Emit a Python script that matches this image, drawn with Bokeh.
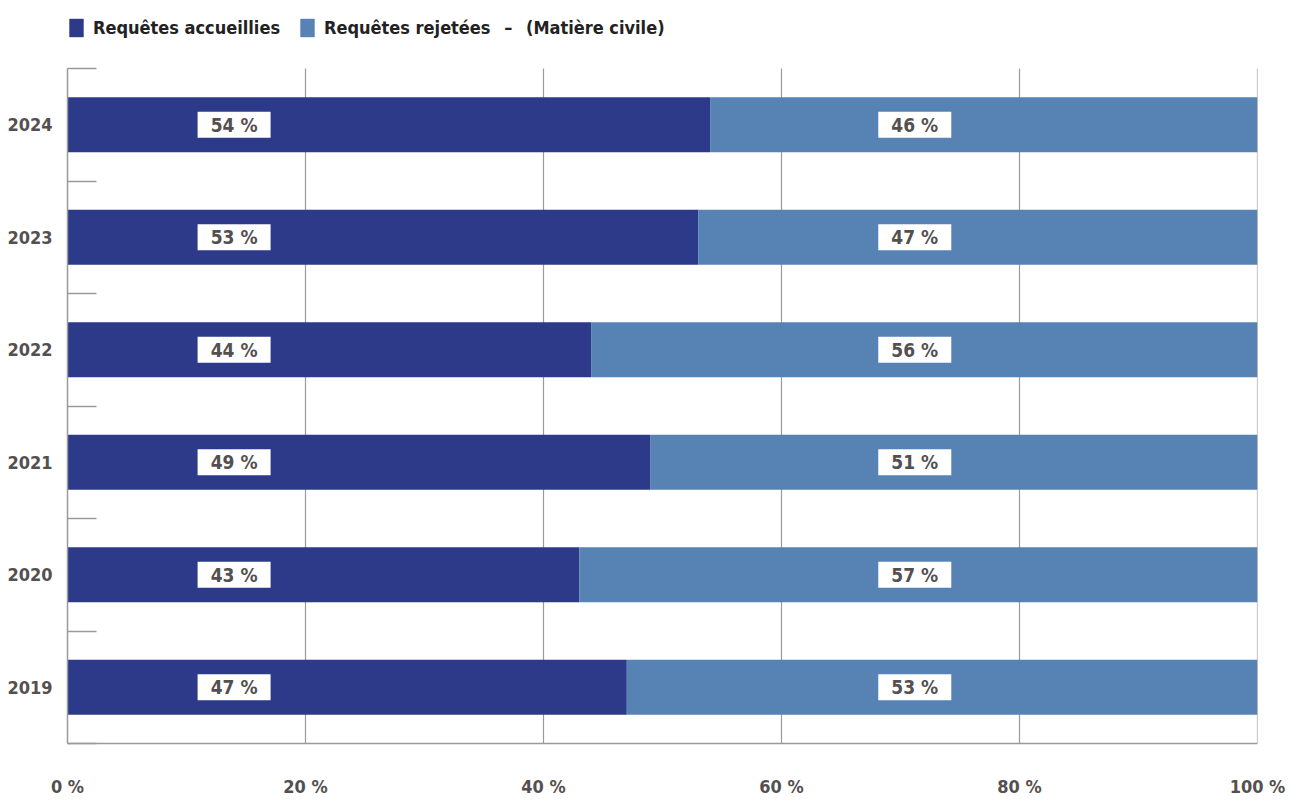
from bokeh.plotting import figure
from bokeh.models import (Range1d, FixedTicker, Legend, LegendItem, ColumnDataSource)
from bokeh.embed import file_html
from bokeh.resources import INLINE
from bokeh.core.properties import value

# ---- data ----
years = ["2019", "2020", "2021", "2022", "2023", "2024"]
accueillies = [47, 43, 49, 44, 53, 54]
rejetees = [53, 57, 51, 56, 47, 46]
x_ticks = [0, 20, 40, 60, 80, 100]
x_tick_labels = ["0 %", "20 %", "40 %", "60 %", "80 %", "100 %"]
legend_labels = ["Requêtes accueillies", "Requêtes rejetées \u2002–\u2002 (Matière civile)"]

# ---- style ----
FONT = "DejaVu Sans Condensed"
NAVY = "#2d3a8a"
LIGHT = "#5683b4"
GRAY = "#9a9a9a"
TEXT = "#545050"
LBL_ACC_X = 14
LBL_REJ_X = 71.2
FRAME_H = 743          # px from figure top to the x axis
BARS_H = 675           # px occupied by the category bands
n = len(years)

ypos = [i + 0.5 for i in range(n)]
totals = [a + r for a, r in zip(accueillies, rejetees)]
src = ColumnDataSource(dict(
    y=ypos, acc=accueillies, tot=totals,
    acc_lbl=[f"{v} %" for v in accueillies],
    rej_lbl=[f"{v} %" for v in rejetees],
    acc_x=[LBL_ACC_X] * n, rej_x=[LBL_REJ_X] * n,
    zero=[0] * n,
))
grid_src = ColumnDataSource(dict(x=x_ticks[1:], y0=[0] * (len(x_ticks) - 1),
                                 y1=[n] * (len(x_ticks) - 1)))

p = figure(width=1290, height=800, output_backend="svg", toolbar_location=None,
           x_range=Range1d(0, 100), y_range=Range1d(0, n * FRAME_H / BARS_H),
           min_border_left=67, min_border_right=33, min_border_bottom=57,
           min_border_top=0)
p.outline_line_color = None
p.background_fill_color = "white"
p.xgrid.grid_line_color = None
p.ygrid.grid_line_color = None

p.segment(x0="x", y0="y0", x1="x", y1="y1", source=grid_src,
          line_color=GRAY, line_width=1.2)

r1 = p.hbar(y="y", left="zero", right="acc", height=0.49, source=src,
            fill_color=NAVY, line_color=None)
r2 = p.hbar(y="y", left="acc", right="tot", height=0.49, source=src,
            fill_color=LIGHT, line_color=None)

for xcol, tcol in (("acc_x", "acc_lbl"), ("rej_x", "rej_lbl")):
    p.rect(x=xcol, y="y", width=73, height=26, width_units="screen",
           height_units="screen", source=src, fill_color="white", line_color=None)
    p.text(x=xcol, y="y", text=tcol, source=src, text_align="center",
           text_baseline="middle", text_color=TEXT, text_font=value(FONT),
           text_font_size="19px", text_font_style="bold")

# x axis
xa = p.xaxis[0]
xa.ticker = FixedTicker(ticks=x_ticks)
xa.major_label_overrides = {t: l for t, l in zip(x_ticks, x_tick_labels)}
xa.major_tick_line_color = None
xa.major_tick_in = 0
xa.major_tick_out = 0
xa.minor_tick_line_color = None
xa.axis_line_color = GRAY
xa.axis_line_width = 1.5
xa.major_label_standoff = 32
xa.major_label_text_font = FONT
xa.major_label_text_font_size = "18px"
xa.major_label_text_font_style = "bold"
xa.major_label_text_color = TEXT

# y axis
ya = p.yaxis[0]
ya.bounds = (0, n)
ya.ticker = FixedTicker(ticks=ypos, minor_ticks=list(range(n + 1)))
ya.major_label_overrides = {y: lab for y, lab in zip(ypos, years)}
ya.major_tick_line_color = None
ya.major_tick_in = 0
ya.major_tick_out = 0
ya.minor_tick_in = 29
ya.minor_tick_out = 0
ya.minor_tick_line_color = GRAY
ya.minor_tick_line_width = 1.5
ya.axis_line_color = GRAY
ya.axis_line_width = 1.5
ya.major_label_standoff = 15
ya.major_label_text_font = FONT
ya.major_label_text_font_size = "18px"
ya.major_label_text_font_style = "bold"
ya.major_label_text_color = TEXT

legend = Legend(items=[LegendItem(label=legend_labels[0], renderers=[r1]),
                       LegendItem(label=legend_labels[1], renderers=[r2])],
                orientation="horizontal", location=(0, 704),
                label_text_font=FONT, label_text_font_size="18px",
                label_text_font_style="bold", label_text_color="#222222",
                glyph_width=18, glyph_height=23, label_standoff=8, spacing=18,
                padding=0, margin=0, border_line_color=None,
                background_fill_alpha=0)
p.add_layout(legend, "center")

open("out.html", "w").write(file_html(p, INLINE))
